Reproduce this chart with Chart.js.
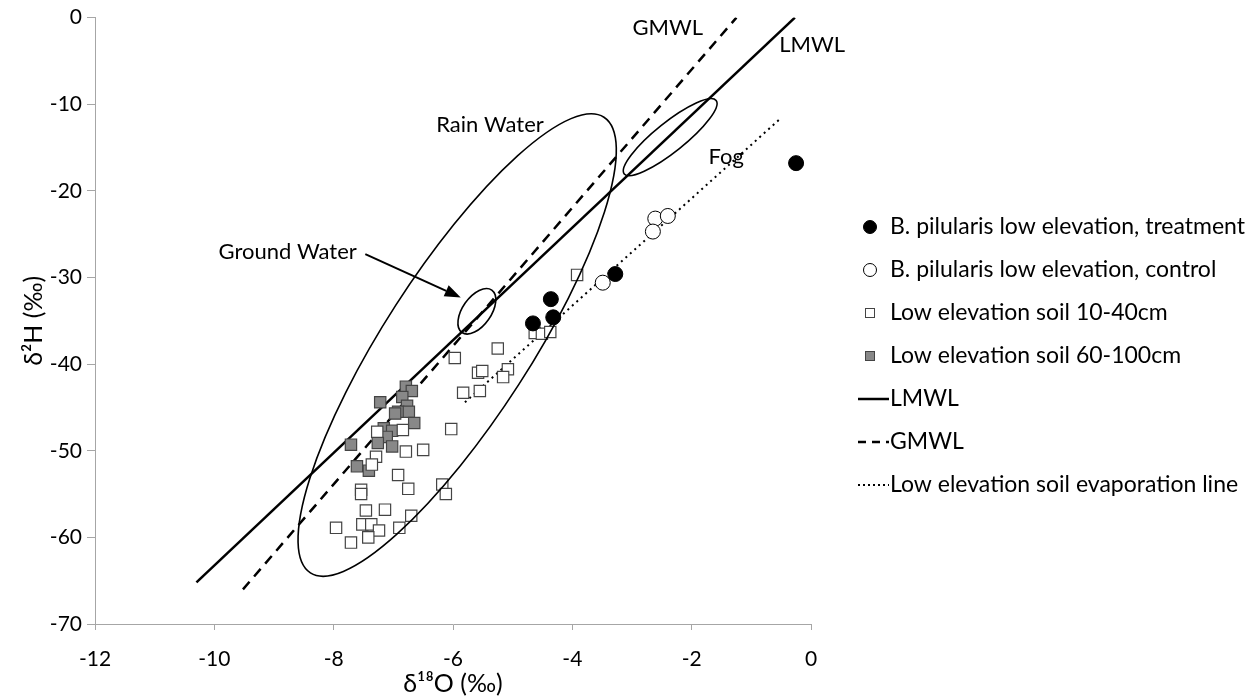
<!DOCTYPE html>
<html>
<head>
<meta charset="utf-8">
<script src="https://cdn.jsdelivr.net/npm/chart.js@4/dist/chart.umd.min.js"></script>
<style>
  html, body { margin: 0; padding: 0; background: #fff; }
</style>
</head>
<body>
<canvas id="myChart" width="1249" height="697"></canvas>
<script>
// values
var treatX = [-0.25, -3.28, -4.36, -4.32, -4.66];
var treatY = [-16.8, -29.6, -32.5, -34.6, -35.3];

var controlX = [-2.61, -2.40, -2.65, -3.49];
var controlY = [-23.2, -22.9, -24.7, -30.6];

var shallowX = [-5.58, -5.51, -5.83, -5.55, -6.03, -5.97, -5.25, -5.08, -5.16, -4.63, -4.51, -4.37, -3.92,
                -7.27, -6.84, -6.79, -6.50, -7.29, -7.36, -6.92, -6.75, -6.18, -6.12, -7.54, -7.54,
                -7.46, -7.14, -6.70, -7.96, -7.52, -7.37, -7.24, -6.90, -7.42, -7.71];
var shallowY = [-41.0, -40.8, -43.3, -43.1, -47.5, -39.3, -38.2, -40.6, -41.5, -36.4, -36.5, -36.3, -29.7,
                -47.8, -47.6, -50.1, -49.9, -50.7, -51.6, -52.8, -54.4, -53.9, -55.0, -54.5, -55.0,
                -56.9, -56.8, -57.5, -58.9, -58.5, -58.5, -59.2, -58.9, -60.0, -60.6];

var deepX = [-6.79, -6.69, -7.22, -6.85, -6.77, -6.92, -6.74, -6.97, -6.65, -7.16, -7.02, -7.11, -7.26, -7.02, -7.71, -7.61, -7.41];
var deepY = [-42.6, -43.1, -44.4, -43.8, -44.8, -45.5, -45.5, -45.7, -46.8, -47.4, -47.7, -48.4, -49.1, -49.5, -49.3, -51.8, -52.3];

var lmwlX = [-10.3, -0.27];
var lmwlY = [-65.2, 0];
var gmwlX = [-9.52, -1.25];
var gmwlY = [-66.0, 0];
var evapX = [-5.8, -0.52];
var evapY = [-44.4, -11.7];

var seriesNames = ['B. pilularis low elevation, treatment', 'B. pilularis low elevation, control',
  'Low elevation soil 10-40cm', 'Low elevation soil 60-100cm', 'LMWL', 'GMWL', 'Low elevation soil evaporation line'];

var xTicks = [-12, -10, -8, -6, -4, -2, 0];
var yTicks = [-70, -60, -50, -40, -30, -20, -10, 0];

function pts(xs, ys) {
  return xs.map(function (x, i) { return { x: x, y: ys[i] }; });
}

var FONT = 'Lato, "Open Sans", sans-serif';

// ellipses / labels drawn on top of the plot (data units)
var notes = {
  ellipses: [
    { cx: -5.93, cy: -37.8, tx: -3.47, ty: -11.5, ratio: 0.27 },  // rain
    { cx: -2.36, cy: -13.8, tx: -1.59, ty: -9.56, ratio: 0.25 },  // fog
    { cx: -5.60, cy: -33.9, tx: -5.35, ty: -31.45, ratio: 0.55 }  // ground
  ],
  texts: [
    { text: 'Rain Water', x: -5.38, y: -12.4 },
    { text: 'Fog', x: -1.42, y: -16.1 },
    { text: 'Ground Water', x: -8.77, y: -27.0 },
    { text: 'GMWL', x: -2.4, y: -1.15 },
    { text: 'LMWL', x: 0.02, y: -3.2 }
  ],
  arrow: { x1: -7.47, y1: -27.3, x2: -5.87, y2: -32.3 }
};

var notesPlugin = {
  id: 'notes',
  afterDatasetsDraw: function (chart) {
    var ctx = chart.ctx, xs = chart.scales.x, ys = chart.scales.y;
    ctx.save();
    ctx.strokeStyle = '#000';
    ctx.lineWidth = 1.6;
    notes.ellipses.forEach(function (e) {
      var cx = xs.getPixelForValue(e.cx), cy = ys.getPixelForValue(e.cy);
      var tx = xs.getPixelForValue(e.tx), ty = ys.getPixelForValue(e.ty);
      var a = Math.hypot(tx - cx, ty - cy);
      var ang = Math.atan2(ty - cy, tx - cx);
      ctx.beginPath();
      ctx.ellipse(cx, cy, a, a * e.ratio, ang, 0, Math.PI * 2);
      ctx.stroke();
    });
    // arrow
    var ar = notes.arrow;
    var x1 = xs.getPixelForValue(ar.x1), y1 = ys.getPixelForValue(ar.y1);
    var x2 = xs.getPixelForValue(ar.x2), y2 = ys.getPixelForValue(ar.y2);
    var an = Math.atan2(y2 - y1, x2 - x1);
    var hl = 16, hw = 6;
    ctx.lineWidth = 2;
    ctx.beginPath();
    ctx.moveTo(x1, y1);
    ctx.lineTo(x2 - hl * Math.cos(an), y2 - hl * Math.sin(an));
    ctx.stroke();
    ctx.fillStyle = '#000';
    ctx.beginPath();
    ctx.moveTo(x2, y2);
    ctx.lineTo(x2 - hl * Math.cos(an) + hw * Math.sin(an), y2 - hl * Math.sin(an) - hw * Math.cos(an));
    ctx.lineTo(x2 - hl * Math.cos(an) - hw * Math.sin(an), y2 - hl * Math.sin(an) + hw * Math.cos(an));
    ctx.closePath();
    ctx.fill();
    // labels
    ctx.font = '22px ' + FONT;
    ctx.textAlign = 'center';
    ctx.textBaseline = 'middle';
    notes.texts.forEach(function (t) {
      ctx.fillText(t.text, xs.getPixelForValue(t.x), ys.getPixelForValue(t.y));
    });
    ctx.restore();
  }
};

// legend on the right, drawn by hand
var legendPlugin = {
  id: 'sideLegend',
  afterDraw: function (chart) {
    var ctx = chart.ctx;
    var mx = 870, tx = 890, y0 = 227, gap = 43;
    ctx.save();
    ctx.font = '23px ' + FONT;
    ctx.textBaseline = 'middle';
    ctx.textAlign = 'left';
    chart.data.datasets.forEach(function (ds, i) {
      var y = y0 + i * gap;
      ctx.save();
      if (ds.showLine) {
        ctx.strokeStyle = '#000';
        ctx.lineWidth = ds.borderWidth;
        ctx.setLineDash(ds.legendDash || []);
        ctx.beginPath();
        ctx.moveTo(858, y);
        ctx.lineTo(889, y);
        ctx.stroke();
      } else if (ds.pointStyle === 'circle') {
        ctx.beginPath();
        ctx.arc(mx, y, 6.5, 0, Math.PI * 2);
        ctx.fillStyle = ds.backgroundColor;
        ctx.fill();
        ctx.lineWidth = 1;
        ctx.strokeStyle = '#000';
        ctx.stroke();
      } else {
        ctx.fillStyle = ds.backgroundColor;
        ctx.fillRect(mx - 4.5, y - 4.5, 9, 9);
        ctx.lineWidth = 1;
        ctx.strokeStyle = '#444';
        ctx.strokeRect(mx - 4.5, y - 4.5, 9, 9);
      }
      ctx.restore();
      ctx.fillStyle = '#000';
      ctx.fillText(ds.label, tx, y);
    });
    ctx.restore();
  }
};

var ctx = document.getElementById('myChart');

var graphData = {
  type: 'scatter',
  data: {
    datasets: [
      {
        label: seriesNames[0], data: pts(treatX, treatY), order: 1,
        pointStyle: 'circle', pointRadius: 7.5, backgroundColor: '#000', borderColor: '#000', borderWidth: 1
      },
      {
        label: seriesNames[1], data: pts(controlX, controlY), order: 2,
        pointStyle: 'circle', pointRadius: 7.5, backgroundColor: '#fff', borderColor: '#000', borderWidth: 1
      },
      {
        label: seriesNames[2], data: pts(shallowX, shallowY), order: 3,
        pointStyle: 'rect', pointRadius: 8, backgroundColor: '#fff', borderColor: '#444', borderWidth: 1.2
      },
      {
        label: seriesNames[3], data: pts(deepX, deepY), order: 4,
        pointStyle: 'rect', pointRadius: 8, backgroundColor: '#888', borderColor: '#444', borderWidth: 1.2
      },
      {
        label: seriesNames[4], data: pts(lmwlX, lmwlY), order: 5, showLine: true, pointRadius: 0,
        borderColor: '#000', borderWidth: 2.5
      },
      {
        label: seriesNames[5], data: pts(gmwlX, gmwlY), order: 6, showLine: true, pointRadius: 0,
        borderColor: '#000', borderWidth: 2.5, borderDash: [10, 7], legendDash: [8, 6]
      },
      {
        label: seriesNames[6], data: pts(evapX, evapY), order: 7, showLine: true, pointRadius: 0,
        borderColor: '#000', borderWidth: 2, borderDash: [2, 4], legendDash: [2, 3]
      }
    ]
  },
  options: {
    responsive: false,
    animation: false,
    layout: { padding: { left: 0, right: 438, top: 17, bottom: 0 } },
    plugins: { legend: { display: false }, tooltip: { enabled: false } },
    scales: {
      x: {
        type: 'linear', min: -12, max: 0,
        afterBuildTicks: function (s) { s.ticks = xTicks.map(function (v) { return { value: v }; }); },
        afterFit: function (s) { s.height = 73; },
        grid: { drawOnChartArea: false, color: '#a6a6a6', tickLength: 6 },
        border: { color: '#a6a6a6', width: 1 },
        ticks: { color: '#000', font: { family: FONT, size: 21 }, padding: 17 },
        title: { display: true, text: 'δ¹⁸O (‰)', color: '#000', font: { family: FONT, size: 25 }, padding: { top: 0, bottom: -2 } }
      },
      y: {
        type: 'linear', min: -70, max: 0,
        afterBuildTicks: function (s) { s.ticks = yTicks.map(function (v) { return { value: v }; }); },
        afterFit: function (s) { s.width = 95; },
        grid: { drawOnChartArea: false, color: '#a6a6a6', tickLength: 8 },
        border: { color: '#a6a6a6', width: 1 },
        ticks: { color: '#000', font: { family: FONT, size: 21 }, padding: 5 },
        title: { display: true, text: 'δ²H (‰)', color: '#000', font: { family: FONT, size: 25 }, padding: { top: 19, bottom: 0 } }
      }
    }
  },
  plugins: [notesPlugin, legendPlugin]
};

var myChart = new Chart(ctx, graphData);
</script>
</body>
</html>
